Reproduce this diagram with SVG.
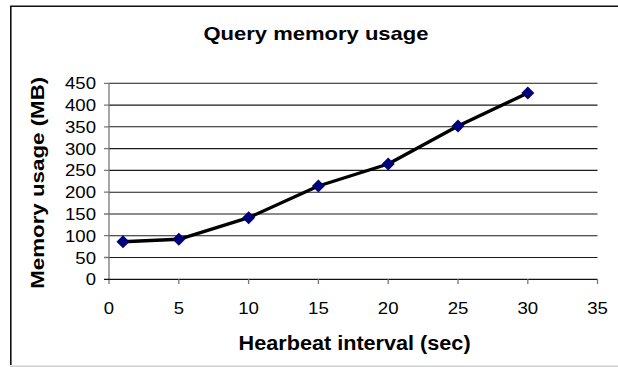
<svg xmlns="http://www.w3.org/2000/svg" width="618" height="367" viewBox="0 0 618 367">
<style>
.t{font-family:"Liberation Sans",Arial,sans-serif;fill:#000}
.b{font-weight:bold}
.tk{font-size:16.5px}
.grid{stroke:#1a1a1a;stroke-width:1.1;fill:none}
.ax{stroke:#777;stroke-width:1.3;fill:none}
.mk{fill:#00007a}
</style>
<defs>
<path id="dia" d="M0,-6.5 L6.5,0 L0,6.5 L-6.5,0 Z" class="mk"/>
</defs>
<rect x="0" y="0" width="618" height="367" fill="#fff"/>
<g id="frame">
<path d="M10.8,365 V6.3 H618" fill="none" stroke="#111" stroke-width="1.6"/>
<line x1="10" y1="366.3" x2="618" y2="366.3" stroke="#d0d0d0" stroke-width="1.4"/>
</g>
<g id="title">
<text class="t b" x="316" y="39.5" font-size="18.5" text-anchor="middle" textLength="225" lengthAdjust="spacingAndGlyphs">Query memory usage</text>
</g>
<g id="gridlines">
<line class="grid" x1="109" y1="83.3" x2="597.5" y2="83.3"/>
<line class="grid" x1="109" y1="105.1" x2="597.5" y2="105.1"/>
<line class="grid" x1="109" y1="126.8" x2="597.5" y2="126.8"/>
<line class="grid" x1="109" y1="148.6" x2="597.5" y2="148.6"/>
<line class="grid" x1="109" y1="170.4" x2="597.5" y2="170.4"/>
<line class="grid" x1="109" y1="192.2" x2="597.5" y2="192.2"/>
<line class="grid" x1="109" y1="214" x2="597.5" y2="214"/>
<line class="grid" x1="109" y1="235.7" x2="597.5" y2="235.7"/>
<line class="grid" x1="109" y1="257.5" x2="597.5" y2="257.5"/>
</g>
<g id="axes">
<line class="ax" x1="109" y1="83" x2="109" y2="284"/>
<line x1="104" y1="279.3" x2="597.5" y2="279.3" stroke="#111" stroke-width="1.2"/>
<path class="ax" d="M104,83.3H109M104,105.1H109M104,126.8H109M104,148.6H109M104,170.4H109M104,192.2H109M104,214H109M104,235.7H109M104,257.5H109"/>
<path class="ax" d="M178.8,279V284M248.6,279V284M318.4,279V284M388.2,279V284M458,279V284M527.8,279V284M597.5,279V284"/>
</g>
<g id="y-labels" class="t tk" text-anchor="end">
<text x="96" y="89.3" textLength="31" lengthAdjust="spacingAndGlyphs">450</text>
<text x="96" y="111.1" textLength="31" lengthAdjust="spacingAndGlyphs">400</text>
<text x="96" y="132.8" textLength="31" lengthAdjust="spacingAndGlyphs">350</text>
<text x="96" y="154.6" textLength="31" lengthAdjust="spacingAndGlyphs">300</text>
<text x="96" y="176.4" textLength="31" lengthAdjust="spacingAndGlyphs">250</text>
<text x="96" y="198.2" textLength="31" lengthAdjust="spacingAndGlyphs">200</text>
<text x="96" y="220" textLength="31" lengthAdjust="spacingAndGlyphs">150</text>
<text x="96" y="241.7" textLength="31" lengthAdjust="spacingAndGlyphs">100</text>
<text x="96" y="263.5" textLength="20.7" lengthAdjust="spacingAndGlyphs">50</text>
<text x="96" y="285.3" textLength="10.3" lengthAdjust="spacingAndGlyphs">0</text>
</g>
<g id="x-labels" class="t tk" text-anchor="middle">
<text x="109" y="314" textLength="10.3" lengthAdjust="spacingAndGlyphs">0</text>
<text x="178.8" y="314" textLength="10.3" lengthAdjust="spacingAndGlyphs">5</text>
<text x="248.6" y="314" textLength="20.7" lengthAdjust="spacingAndGlyphs">10</text>
<text x="318.4" y="314" textLength="20.7" lengthAdjust="spacingAndGlyphs">15</text>
<text x="388.2" y="314" textLength="20.7" lengthAdjust="spacingAndGlyphs">20</text>
<text x="458" y="314" textLength="20.7" lengthAdjust="spacingAndGlyphs">25</text>
<text x="527.8" y="314" textLength="20.7" lengthAdjust="spacingAndGlyphs">30</text>
<text x="597.5" y="314" textLength="20.7" lengthAdjust="spacingAndGlyphs">35</text>
</g>
<g id="x-title">
<text class="t b" x="354.6" y="350" font-size="20" text-anchor="middle" textLength="232" lengthAdjust="spacingAndGlyphs">Hearbeat interval (sec)</text>
</g>
<g id="y-title">
<text class="t b" transform="translate(43.5,182.8) rotate(-90)" x="0" y="0" font-size="18.5" text-anchor="middle" textLength="212" lengthAdjust="spacingAndGlyphs">Memory usage (MB)</text>
</g>
<g id="connectors">
<polyline points="123,241.7 178.8,239.3 248.6,217.7 318.4,186 388.2,164 458,126 527.8,93" fill="none" stroke="#000" stroke-width="3.4" stroke-linejoin="round"/>
</g>
<g id="markers">
<use href="#dia" x="123" y="241.7"/>
<use href="#dia" x="178.8" y="239.3"/>
<use href="#dia" x="248.6" y="217.7"/>
<use href="#dia" x="318.4" y="186"/>
<use href="#dia" x="388.2" y="164"/>
<use href="#dia" x="458" y="126"/>
<use href="#dia" x="527.8" y="93"/>
</g>
</svg>
